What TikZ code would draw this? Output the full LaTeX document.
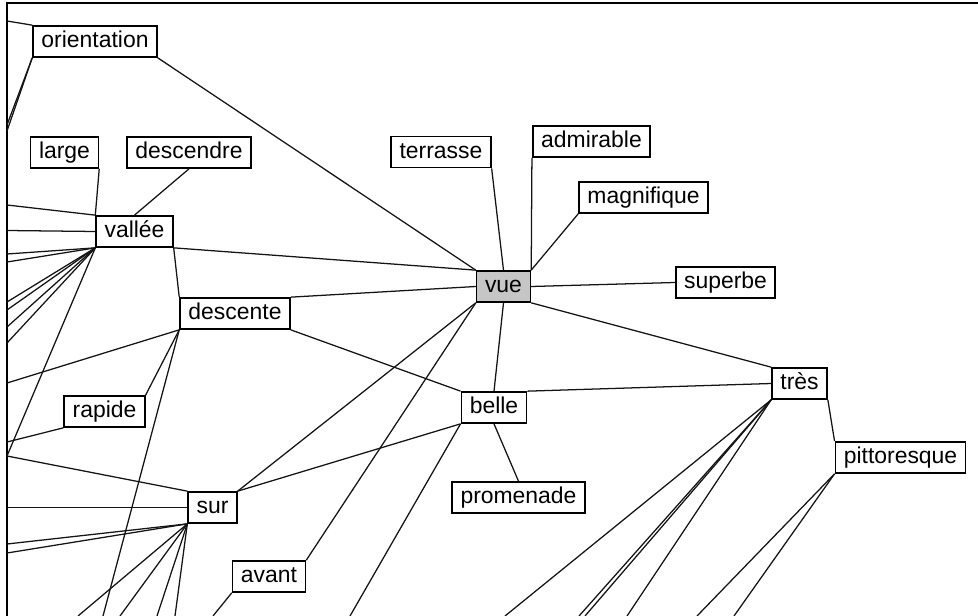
\documentclass[tikz,border=0pt]{standalone}
\usepackage{fontspec}
\setmainfont{Liberation Sans}
\usepackage{tikz}
\definecolor{cvue} {RGB}{198,198,198}
\definecolor{cedge}{RGB}{20,20,20}
\tikzset{
  wbox/.style={rectangle, draw=black, fill=white, line width=1.2pt,
               font=\fontsize{16.3}{18}\selectfont,
               text height=0.9em, text depth=0pt,
               inner xsep=0.21cm, inner ysep=0pt, minimum height=0.775cm},
  hub/.style={wbox, fill=cvue},
  lnk/.style={line width=0.9pt, color=cedge},
  frm/.style={line width=1pt, color=black},
}

\begin{document}
\begin{tikzpicture}[x=0.025cm, y=-0.025cm]
  \useasboundingbox (0,0) rectangle (978,616);
  % ── Frame of the view ─────────────────────────────────────────────────────
  \draw[frm] (7,616) -- (7,3) -- (978,3);

  % ── Words, left half ──────────────────────────────────────────────────────
  \node[wbox] at (95,41.5)   (orientation) {orientation};
  \node[wbox] at (64.5,152.5) (large)      {large};
  \node[wbox] at (189,152.5) (descendre)   {descendre};
  \node[wbox] at (134.5,231.5) (vallee)    {vallée};
  \node[wbox] at (235,313.5) (descente)    {descente};
  \node[wbox] at (104.5,411.5) (rapide)    {rapide};
  \node[wbox] at (212.5,507.5) (sur)       {sur};
  \node[wbox] at (269,576.5) (avant)       {avant};

  % ── Centre word and its neighbours ────────────────────────────────────────
  \node[hub]  at (503.5,286.5) (vue)       {vue};
  \node[wbox] at (441,152)   (terrasse)    {terrasse};
  \node[wbox] at (591.5,141.5) (admirable) {admirable};
  \node[wbox] at (643.5,197.5) (magnifique){magnifique};
  \node[wbox] at (725.5,282.5) (superbe)   {superbe};
  \node[wbox] at (494,407.5) (belle)       {belle};
  \node[wbox] at (518.5,497.5) (promenade) {promenade};
  \node[wbox] at (799.5,383.5) (tres)      {très};
  \node[wbox] at (900.5,457.5) (pittoresque){pittoresque};

  % ── Loose ends (words outside the view) ───────────────────────────────────
  \coordinate (lOri1) at (7,21);
  \coordinate (lOri2) at (7,125);
  \coordinate (lOri3) at (7,131);
  \coordinate (lVal1) at (7,205);
  \coordinate (lVal2) at (7,230.5);
  \coordinate (lVal3) at (7,254);
  \coordinate (lVal4) at (7,262);
  \coordinate (lVal5) at (7,302);
  \coordinate (lVal6) at (7,310);
  \coordinate (lVal7) at (7,327);
  \coordinate (lVal8) at (7,343);
  \coordinate (lDes)  at (7,383);
  \coordinate (lRap)  at (7,442);
  \coordinate (lSur0) at (7,456);
  \coordinate (lSur1) at (7,507.5);
  \coordinate (lSur2) at (7,544);
  \coordinate (lSur3) at (7,553);
  \coordinate (bSur1) at (78,616);
  \coordinate (bDes)  at (103,616);
  \coordinate (bSur2) at (120,616);
  \coordinate (bSur3) at (157,616);
  \coordinate (bSur4) at (175,616);
  \coordinate (bAva)  at (213,616);
  \coordinate (bBel)  at (350,616);
  \coordinate (bTre1) at (505,616);
  \coordinate (bTre2) at (579,616);
  \coordinate (bTre3) at (585,616);
  \coordinate (bTre4) at (627,616);
  \coordinate (bPit1) at (697,616);
  \coordinate (bPit2) at (734,616);

  % ── Links around vue ──────────────────────────────────────────────────────
  \draw[lnk] (orientation.south east) -- (vue.north west);
  \draw[lnk] (vallee.south east) -- (vue.north west);
  \draw[lnk] (descente.north east) -- (vue.west);
  \draw[lnk] (terrasse.south east) -- (vue.north);
  \draw[lnk] (admirable.south west) -- (vue.north east);
  \draw[lnk] (magnifique.south west) -- (vue.north east);
  \draw[lnk] (superbe.west) -- (vue.east);
  \draw[lnk] (vue.south east) -- (tres.north west);
  \draw[lnk] (vue.south) -- (belle.north);
  \draw[lnk] (vue.south west) -- (sur.north east);
  \draw[lnk] (vue.south west) -- (avant.north east);

  % ── Links around belle and très ───────────────────────────────────────────
  \draw[lnk] (belle.north east) -- (tres.west);
  \draw[lnk] (belle.north west) -- (descente.south east);
  \draw[lnk] (belle.south west) -- (sur.north east);
  \draw[lnk] (belle.south west) -- (bBel);
  \draw[lnk] (belle.south) -- (promenade.north);
  \draw[lnk] (tres.south east) -- (pittoresque.north west);
  \draw[lnk] (tres.south west) -- (bTre1);
  \draw[lnk] (tres.south west) -- (bTre2);
  \draw[lnk] (tres.south west) -- (bTre3);
  \draw[lnk] (tres.south west) -- (bTre4);
  \draw[lnk] (pittoresque.south west) -- (bPit1);
  \draw[lnk] (pittoresque.south west) -- (bPit2);

  % ── Links on the left ─────────────────────────────────────────────────────
  \draw[lnk] (orientation.north west) -- (lOri1);
  \draw[lnk] (orientation.south west) -- (lOri2);
  \draw[lnk] (orientation.south west) -- (lOri3);
  \draw[lnk] (large.south east) -- (vallee.north west);
  \draw[lnk] (descendre.south) -- (vallee.north);
  \draw[lnk] (vallee.north west) -- (lVal1);
  \draw[lnk] (vallee.west) -- (lVal2);
  \draw[lnk] (vallee.south west) -- (lVal3);
  \draw[lnk] (vallee.south west) -- (lVal4);
  \draw[lnk] (vallee.south west) -- (lVal5);
  \draw[lnk] (vallee.south west) -- (lVal6);
  \draw[lnk] (vallee.south west) -- (lVal7);
  \draw[lnk] (vallee.south west) -- (lVal8);
  \draw[lnk] (vallee.south west) -- (lSur0);
  \draw[lnk] (vallee.south east) -- (descente.north west);
  \draw[lnk] (descente.south west) -- (lDes);
  \draw[lnk] (descente.south west) -- (rapide.north east);
  \draw[lnk] (descente.south west) -- (bDes);
  \draw[lnk] (rapide.south west) -- (lRap);
  \draw[lnk] (sur.north west) -- (lSur0);
  \draw[lnk] (sur.west) -- (lSur1);
  \draw[lnk] (sur.south west) -- (lSur2);
  \draw[lnk] (sur.south west) -- (lSur3);
  \draw[lnk] (sur.south west) -- (bSur1);
  \draw[lnk] (sur.south west) -- (bSur2);
  \draw[lnk] (sur.south west) -- (bSur3);
  \draw[lnk] (sur.south west) -- (bSur4);
  \draw[lnk] (avant.south west) -- (bAva);
\end{tikzpicture}
\end{document}
